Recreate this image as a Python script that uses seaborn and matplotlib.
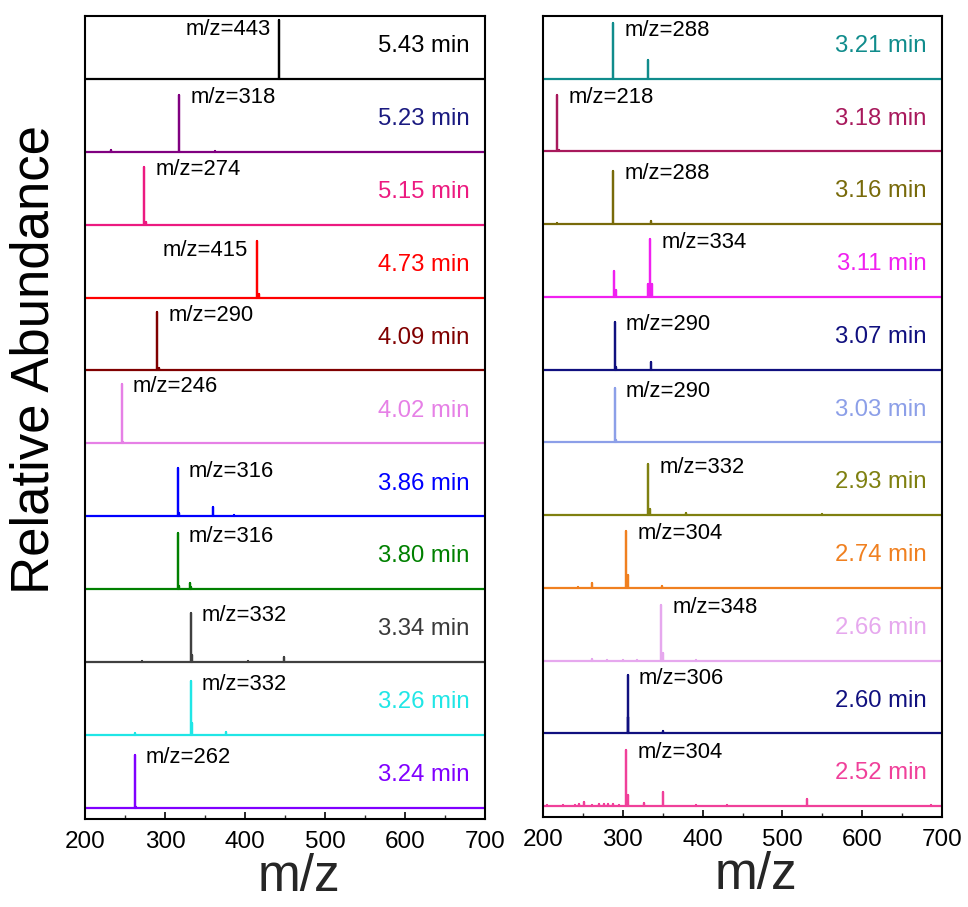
import numpy as np
import pandas as pd
import matplotlib
matplotlib.use("Agg")
import matplotlib.pyplot as plt
import seaborn as sns

# ---------------- data (top row first) ----------------
left_times = ["5.43 min", "5.23 min", "5.15 min", "4.73 min", "4.09 min", "4.02 min",
              "3.86 min", "3.80 min", "3.34 min", "3.26 min", "3.24 min"]
left_main_mz = [443, 318, 274, 415, 290, 246, 316, 316, 332, 332, 262]
left_main_h = [0.80, 0.78, 0.79, 0.77, 0.80, 0.82, 0.66, 0.77, 0.68, 0.74, 0.73]
left_minor = [
    [],
    [(232, 0.02), (362, 0.015)],
    [(276, 0.03)],
    [(417, 0.05)],
    [(292, 0.03)],
    [(248, 0.02)],
    [(318, 0.04), (360, 0.13), (376, 0.01), (386, 0.012)],
    [(318, 0.05), (331, 0.09), (333, 0.03)],
    [(271, 0.01), (334, 0.1), (404, 0.01), (449, 0.07)],
    [(262, 0.03), (334, 0.16), (376, 0.04)],
    [(264, 0.02)],
]
left_line_colors = ["#000000", "#800080", "#EC1A80", "#FF0000", "#800000", "#E680E6",
                    "#0000FF", "#008000", "#404040", "#20E6E6", "#8000FF"]
left_text_colors = ["#000000", "#1A1A80", "#EC1A80", "#FF0000", "#800000", "#E680E6",
                    "#0000FF", "#008000", "#3A3A3A", "#20E6E6", "#8000FF"]
left_label_left = [True, False, False, True, False, False, False, False, False, False, False]

right_times = ["3.21 min", "3.18 min", "3.16 min", "3.11 min", "3.07 min", "3.03 min",
               "2.93 min", "2.74 min", "2.66 min", "2.60 min", "2.52 min"]
right_main_mz = [288, 218, 288, 334, 290, 290, 332, 304, 348, 306, 304]
right_main_h = [0.77, 0.78, 0.73, 0.79, 0.66, 0.74, 0.70, 0.78, 0.77, 0.80, 0.77]
right_minor = [
    [(332, 0.26)],
    [(220, 0.02)],
    [(218, 0.01), (335, 0.04)],
    [(289, 0.36), (291, 0.1), (332, 0.18), (336, 0.18)],
    [(292, 0.03), (335, 0.1)],
    [(292, 0.03)],
    [(334, 0.08), (379, 0.03), (549, 0.02)],
    [(244, 0.01), (261, 0.07), (306, 0.17), (349, 0.02)],
    [(262, 0.02), (280, 0.01), (300, 0.01), (318, 0.01), (350, 0.1), (392, 0.01)],
    [(252, 0.01), (307, 0.23), (350, 0.03)],
    [(205, 0.02), (225, 0.02), (240, 0.015), (245, 0.03), (252, 0.05), (262, 0.02),
     (270, 0.03), (276, 0.03), (282, 0.03), (288, 0.025), (295, 0.02), (306, 0.15),
     (326, 0.04), (350, 0.19), (392, 0.01), (430, 0.015), (531, 0.1), (686, 0.01)],
]
right_line_colors = ["#108C8C", "#A8195C", "#786A0A", "#F020F0", "#10107F", "#8C9FE8",
                     "#7F8010", "#F08020", "#E6A8EE", "#10107F", "#F0409A"]
right_text_colors = right_line_colors
right_label_left = [False] * 11

x_ticks = [200, 300, 400, 500, 600, 700]
x_min, x_max = 200, 700

# ---------------- figure ----------------
sns.set_theme(style="white")
plt.rcParams["font.family"] = ["Liberation Sans", "DejaVu Sans"]

W, H = 968, 907
fig = plt.figure(figsize=(W / 100, H / 100), dpi=100)


def make_ax(x0, x1, y_top, y_bot):
    return fig.add_axes([x0 / W, 1 - y_bot / H, (x1 - x0) / W, (y_bot - y_top) / H])


ax_l = make_ax(85, 485, 16, 819)
ax_r = make_ax(543, 942, 16, 817)


def spectrum_frame(main_mz, main_h, minor, offset):
    peaks = sorted([(main_mz, main_h)] + list(minor))
    xs, ys = [x_min], [0.0]
    for mz, h in peaks:
        xs += [mz, mz, mz]
        ys += [0.0, h, 0.0]
    xs.append(x_max)
    ys.append(0.0)
    return pd.DataFrame({"mz": xs, "y": np.array(ys) + offset})


def draw_panel(ax, times, main_mz, main_h, minor, lcols, tcols, label_left):
    n = len(times)
    for i in range(n):
        off = n - 1 - i
        df = spectrum_frame(main_mz[i], main_h[i], minor[i], off)
        sns.lineplot(data=df, x="mz", y="y", sort=False, estimator=None,
                     color=lcols[i], lw=1.6, ax=ax)
        label = f"m/z={main_mz[i]}"
        if label_left[i]:
            ax.text(main_mz[i] - 11, off + main_h[i] - 0.13, label, ha="right",
                    va="center", fontsize=15.8, color="black")
        else:
            ly = off + main_h[i] - 0.04
            if i == 0:
                ly = off + 0.66
            ax.text(main_mz[i] + 14, ly, label, ha="left", va="center",
                    fontsize=15.8, color="black")
        ax.text(681, off + 0.45, times[i], ha="right", va="center",
                fontsize=17.2, color=tcols[i])
    ax.set_xlim(x_min, x_max)
    ax.set_ylim(-0.15, n - 1 + 0.86)
    ax.set_yticks([])
    ax.set_ylabel("")
    ax.set_xticks(x_ticks)
    ax.set_xticks(np.arange(250, 700, 100), minor=True)
    ax.tick_params(axis="x", which="major", direction="in", length=5, width=1.2,
                   labelsize=17.5, pad=8.5, bottom=True, colors="black")
    ax.tick_params(axis="x", which="minor", direction="in", length=3, width=1.0,
                   bottom=True)
    for sp in ax.spines.values():
        sp.set_color("black")
        sp.set_linewidth(1.5)
    ax.set_xlabel("m/z", fontsize=37)
    ax.xaxis.set_label_coords(0.535, -0.042)


draw_panel(ax_l, left_times, left_main_mz, left_main_h, left_minor,
           left_line_colors, left_text_colors, left_label_left)
draw_panel(ax_r, right_times, right_main_mz, right_main_h, right_minor,
           right_line_colors, right_text_colors, right_label_left)

fig.text(35 / W, 1 - 360 / H, "Relative Abundance", rotation=90, fontsize=38,
         ha="center", va="center", color="black")

fig.savefig("out.png", dpi=100)
